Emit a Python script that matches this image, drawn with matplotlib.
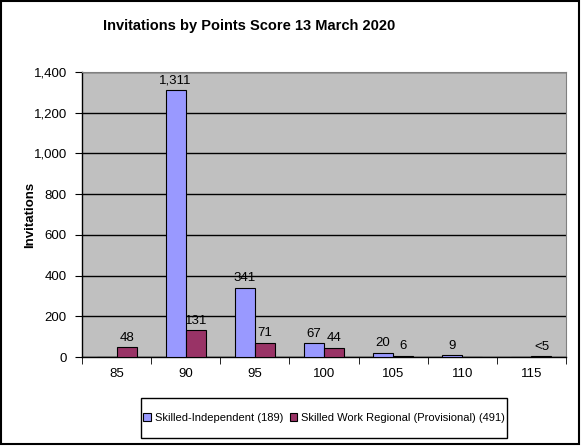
import matplotlib.pyplot as plt
from matplotlib.patches import Rectangle
import numpy as np

plt.rcParams['font.family'] = ['Liberation Sans', 'DejaVu Sans']

scores = ['85', '90', '95', '100', '105', '110', '115']
independent = [0, 1311, 341, 67, 20, 9, 0]
regional = [48, 131, 71, 44, 6, 0, 3]
independent_labels = ['', '1,311', '341', '67', '20', '9', '']
regional_labels = ['48', '131', '71', '44', '6', '', '<5']
series_names = ['Skilled-Independent (189)', 'Skilled Work Regional (Provisional) (491)']

fig = plt.figure(figsize=(5.82, 4.46), dpi=100)
ax = fig.add_axes([82/582, 1-357/446, 484/582, 285/446])
ax.set_facecolor('#C0C0C0')

x = np.arange(len(scores))
w = 0.29
b1 = ax.bar(x - w/2, independent, w, color='#9999FF', edgecolor='black', linewidth=0.8, label=series_names[0], zorder=3)
b2 = ax.bar(x + w/2, regional, w, color='#993366', edgecolor='black', linewidth=0.8, label=series_names[1], zorder=3)

for rect, lab in zip(b1, independent_labels):
    if lab:
        ax.text(rect.get_x() + rect.get_width()/2, rect.get_height() + 18, lab,
                ha='center', va='bottom', fontsize=9.5, zorder=4)
for rect, lab in zip(b2, regional_labels):
    if lab:
        ax.text(rect.get_x() + rect.get_width()/2, rect.get_height() + 18, lab,
                ha='center', va='bottom', fontsize=9.5, zorder=4)

ax.set_xlim(-0.5, len(scores) - 0.5)
ax.set_ylim(0, 1400)
ax.set_yticks(range(0, 1401, 200))
ax.set_yticklabels([f'{v:,}' for v in range(0, 1401, 200)], fontsize=9.5)
ax.yaxis.grid(True, color='black', linewidth=1, zorder=1)
ax.set_axisbelow(True)

ax.set_xticks(x)
ax.set_xticklabels(scores, fontsize=9.5)
ax.tick_params(axis='x', length=0, pad=8)
ax.set_xticks(np.arange(-0.5, len(scores), 1), minor=True)
ax.tick_params(axis='x', which='minor', length=5, direction='out', color='black')
ax.tick_params(axis='y', length=5, direction='out', pad=6)

for side in ['top', 'right']:
    ax.spines[side].set_color('#808080')
for side in ['left', 'bottom']:
    ax.spines[side].set_color('black')
    ax.spines[side].set_linewidth(1)

ax.set_ylabel('Invitations', fontsize=9.5, fontweight='bold', labelpad=-2)
fig.text(249/582, 1-26/446, 'Invitations by Points Score 13 March 2020',
         ha='center', va='center', fontsize=10.5, fontweight='bold')

leg = fig.legend(loc='center', bbox_to_anchor=(324/582, 1-418/446), ncol=2,
                 fontsize=8, frameon=False, handlelength=0.7,
                 handleheight=0.7, handletextpad=0.3, columnspacing=0.6)
fig.patches.append(Rectangle((141/582, 1-438/446), 366/582, 40/446, transform=fig.transFigure,
                             fill=False, edgecolor='black', linewidth=1))

fig.patches.append(Rectangle((0.002, 0.004), 0.993, 0.994, transform=fig.transFigure,
                             fill=False, edgecolor='black', linewidth=1.5))

fig.savefig('out.png', dpi=100)
